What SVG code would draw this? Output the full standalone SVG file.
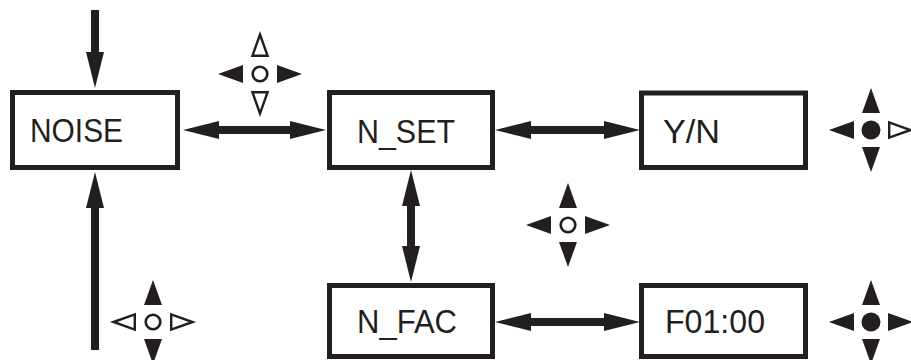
<svg xmlns="http://www.w3.org/2000/svg" xmlns:xlink="http://www.w3.org/1999/xlink" width="911" height="360" viewBox="0 0 911 360">
  <style>
    .box { fill: #ffffff; stroke: #231f20; stroke-width: 5; }
    .label { font-family: "Liberation Sans", Arial, sans-serif; font-size: 34px; fill: #231f20; }
    .shaft { stroke: #231f20; stroke-width: 8; fill: none; marker-end: url(#head); }
    .both { marker-start: url(#head); }
    .solid { fill: #231f20; }
    .hollow { fill: #ffffff; stroke: #231f20; stroke-width: 2.4; stroke-linejoin: miter; }
  </style>
  <defs>
    <marker id="head" markerUnits="userSpaceOnUse" markerWidth="37" markerHeight="18" refX="1" refY="9" orient="auto-start-reverse" overflow="visible">
      <path d="M0,0 L36,9 L0,18 Z" fill="#231f20"/>
    </marker>
    <!-- key-pad triangles, pointing up; rotate for other directions -->
    <path id="triSolid" class="solid" d="M0,-42 L9,-17 L-9,-17 Z"/>
    <path id="triHollow" class="hollow" d="M0,-39.5 L7.6,-18.2 L-7.6,-18.2 Z"/>
    <circle id="dotSolid" class="solid" r="9.5"/>
    <circle id="dotHollow" class="hollow" r="7.3" style="stroke-width:2.6"/>
  </defs>

  <!-- connectors -->
  <g id="connectors">
    <line class="shaft" x1="95" y1="10" x2="95" y2="53"/>
    <line class="shaft" x1="95" y1="350" x2="95" y2="207"/>
    <line class="shaft both" x1="218" y1="130" x2="291" y2="130"/>
    <line class="shaft both" x1="530" y1="130" x2="605" y2="130"/>
    <line class="shaft both" x1="411" y1="205" x2="411" y2="247"/>
    <line class="shaft both" x1="530" y1="322" x2="605" y2="322"/>
  </g>

  <!-- menu nodes -->
  <g id="noise">
    <rect class="box" x="12.5" y="92.5" width="165" height="75"/>
    <text class="label" x="30" y="142" textLength="93" lengthAdjust="spacingAndGlyphs">NOISE</text>
  </g>
  <g id="n-set">
    <rect class="box" x="329.5" y="92.5" width="163" height="75"/>
    <text class="label" x="357" y="143" textLength="98" lengthAdjust="spacingAndGlyphs">N_SET</text>
  </g>
  <g id="yes-no">
    <rect class="box" x="641.5" y="93" width="164" height="74.5"/>
    <text class="label" x="663" y="143" textLength="57" lengthAdjust="spacingAndGlyphs">Y/N</text>
  </g>
  <g id="n-fac">
    <rect class="box" x="329.5" y="285.5" width="163" height="71"/>
    <text class="label" x="357" y="333" textLength="100" lengthAdjust="spacingAndGlyphs">N_FAC</text>
  </g>
  <g id="f-value">
    <rect class="box" x="641.5" y="285.5" width="164" height="71"/>
    <text class="label" x="665" y="333" textLength="100" lengthAdjust="spacingAndGlyphs">F01:00</text>
  </g>

  <!-- key-pad hints -->
  <g id="keys-noise" transform="translate(260,74)">
    <use xlink:href="#triHollow"/>
    <use xlink:href="#triSolid" transform="rotate(90)"/>
    <use xlink:href="#triHollow" transform="rotate(180)"/>
    <use xlink:href="#triSolid" transform="rotate(270)"/>
    <use xlink:href="#dotHollow"/>
  </g>
  <g id="keys-yes-no" transform="translate(871,130)">
    <use xlink:href="#triSolid"/>
    <use xlink:href="#triHollow" transform="rotate(90)"/>
    <use xlink:href="#triSolid" transform="rotate(180)"/>
    <use xlink:href="#triSolid" transform="rotate(270)"/>
    <use xlink:href="#dotSolid"/>
  </g>
  <g id="keys-n-set" transform="translate(568,225)">
    <use xlink:href="#triSolid"/>
    <use xlink:href="#triSolid" transform="rotate(90)"/>
    <use xlink:href="#triSolid" transform="rotate(180)"/>
    <use xlink:href="#triSolid" transform="rotate(270)"/>
    <use xlink:href="#dotHollow"/>
  </g>
  <g id="keys-entry" transform="translate(153,322)">
    <use xlink:href="#triSolid"/>
    <use xlink:href="#triHollow" transform="rotate(90)"/>
    <use xlink:href="#triSolid" transform="rotate(180)"/>
    <use xlink:href="#triHollow" transform="rotate(270)"/>
    <use xlink:href="#dotHollow"/>
  </g>
  <g id="keys-f-value" transform="translate(871,322)">
    <use xlink:href="#triSolid"/>
    <use xlink:href="#triSolid" transform="rotate(90)"/>
    <use xlink:href="#triSolid" transform="rotate(180)"/>
    <use xlink:href="#triSolid" transform="rotate(270)"/>
    <use xlink:href="#dotSolid"/>
  </g>
</svg>
